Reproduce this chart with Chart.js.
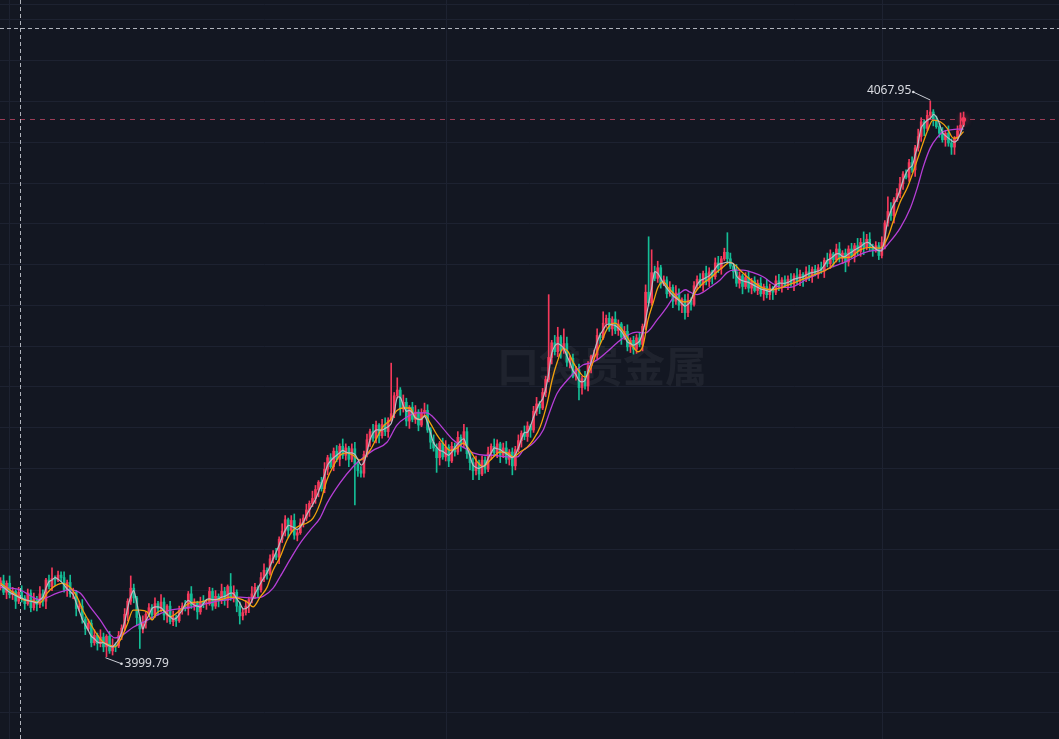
<!DOCTYPE html>
<html>
<head>
<meta charset="utf-8">
<script src="https://cdn.jsdelivr.net/npm/chart.js@4/dist/chart.umd.min.js"></script>
<style>
html,body{margin:0;padding:0;background:#131722;}
#wrap{width:1059px;height:739px;position:relative;}
</style>
</head>
<body>
<div id="wrap"><canvas id="c" width="1059" height="739"></canvas></div>
<script>
// ---------- data ----------
const open = [
4008.5,4009.1,4007.7,4008.8,4007.4,4007.8,4006.6,4007.7,4007.0,4006.3,
4007.6,4005.8,4006.9,4006.2,4007.5,4006.6,4009.2,4008.4,4009.4,4009.2,
4009.8,4009.5,4008.0,4008.9,4007.5,4007.7,4005.7,4006.0,4004.4,4003.2,
4003.9,4001.5,4002.4,4001.4,4002.2,4001.0,4002.3,4000.5,4001.2,4001.1,
4002.4,4003.3,4005.0,4006.6,4008.2,4007.0,4004.6,4003.2,4004.0,4005.0,
4005.8,4004.9,4006.3,4005.7,4006.5,4004.9,4006.0,4004.1,4004.6,4004.2,
4005.5,4006.0,4005.7,4007.5,4006.1,4006.4,4005.3,4006.5,4006.3,4006.3,
4007.8,4006.0,4007.2,4006.7,4007.8,4006.7,4008.4,4007.0,4007.7,4006.0,
4004.8,4005.2,4006.0,4006.8,4007.5,4008.3,4008.0,4009.5,4010.4,4010.0,
4011.8,4012.4,4012.0,4014.2,4015.2,4016.6,4015.3,4016.5,4014.7,4015.0,
4016.2,4016.8,4017.8,4018.6,4019.2,4020.3,4021.2,4020.4,4022.8,4024.2,
4023.1,4025.0,4024.0,4025.6,4024.5,4025.4,4024.0,4025.3,4023.4,4022.6,
4022.3,4024.6,4026.4,4027.4,4026.6,4028.2,4026.9,4028.3,4027.4,4028.8,
4029.6,4031.8,4032.5,4030.2,4031.0,4028.7,4030.4,4028.9,4029.8,4028.2,
4029.7,4030.0,4027.6,4026.1,4025.4,4024.2,4026.0,4024.3,4025.5,4023.8,
4025.6,4024.9,4026.7,4025.8,4027.4,4024.7,4023.6,4022.6,4023.6,4022.2,
4023.9,4022.8,4024.8,4025.6,4024.8,4025.9,4024.5,4025.4,4024.0,4024.9,
4023.2,4025.2,4026.3,4027.2,4026.8,4028.1,4027.6,4029.9,4030.8,4030.3,
4032.2,4033.8,4036.5,4038.3,4037.2,4039.0,4037.3,4038.2,4035.9,4036.4,
4034.2,4035.0,4032.8,4033.9,4033.0,4035.5,4036.6,4036.8,4039.2,4038.9,
4040.7,4041.3,4040.0,4041.2,4039.8,4040.6,4039.0,4039.7,4037.8,4038.6,
4037.5,4038.9,4038.1,4040.3,4044.5,4043.2,4046.9,4046.2,4047.5,4045.5,
4046.0,4044.3,4045.1,4043.4,4044.4,4042.9,4043.6,4042.0,4043.5,4043.0,
4045.3,4046.1,4045.4,4046.8,4045.8,4047.0,4046.4,4048.1,4047.4,4048.6,
4049.4,4048.6,4047.7,4047.0,4045.6,4046.5,4045.2,4046.3,4045.0,4045.9,
4044.7,4045.6,4044.3,4045.2,4044.2,4045.0,4044.5,4045.9,4045.2,4046.0,
4045.3,4046.1,4045.5,4046.5,4045.9,4046.7,4046.1,4047.0,4046.4,4047.3,
4046.7,4047.5,4047.1,4048.4,4048.0,4049.2,4048.5,4049.8,4048.7,4049.3,
4048.2,4049.8,4049.0,4050.2,4049.5,4050.6,4050.0,4051.0,4050.1,4049.6,
4050.2,4049.0,4050.6,4053.0,4054.4,4053.9,4055.9,4056.6,4057.8,4059.0,
4058.6,4060.4,4059.5,4062.2,4063.6,4065.4,4064.6,4066.2,4066.6,4065.6,
4064.8,4064.0,4063.2,4064.0,4062.8,4062.3,4063.4,4064.3,4065.0
];
const close = [
4009.1,4007.7,4008.8,4007.4,4007.8,4006.6,4007.7,4007.0,4006.3,4007.6,
4005.8,4006.9,4006.2,4007.5,4006.6,4009.2,4008.4,4009.4,4009.2,4009.8,
4009.5,4008.0,4008.9,4007.5,4007.7,4005.7,4006.0,4004.4,4003.2,4003.9,
4001.5,4002.4,4001.4,4002.2,4001.0,4002.3,4000.5,4001.2,4001.1,4002.4,
4003.3,4005.0,4006.6,4008.2,4007.0,4004.6,4003.2,4004.0,4005.0,4005.8,
4004.9,4006.3,4005.7,4006.5,4004.9,4006.0,4004.1,4004.6,4004.2,4005.5,
4006.0,4005.7,4007.5,4006.1,4006.4,4005.3,4006.5,4006.3,4006.3,4007.8,
4006.0,4007.2,4006.7,4007.8,4006.7,4008.4,4007.0,4007.7,4006.0,4004.8,
4005.2,4006.0,4006.8,4007.5,4008.3,4008.0,4009.5,4010.4,4010.0,4011.8,
4012.4,4012.0,4014.2,4015.2,4016.6,4015.3,4016.5,4014.7,4015.0,4016.2,
4016.8,4017.8,4018.6,4019.2,4020.3,4021.2,4020.4,4022.8,4024.2,4023.1,
4025.0,4024.0,4025.6,4024.5,4025.4,4024.0,4025.3,4023.4,4022.6,4022.3,
4024.6,4026.4,4027.4,4026.6,4028.2,4026.9,4028.3,4027.4,4028.8,4029.6,
4031.8,4032.5,4030.2,4031.0,4028.7,4030.4,4028.9,4029.8,4028.2,4029.7,
4030.0,4027.6,4026.1,4025.4,4024.2,4026.0,4024.3,4025.5,4023.8,4025.6,
4024.9,4026.7,4025.8,4027.4,4024.7,4023.6,4022.6,4023.6,4022.2,4023.9,
4022.8,4024.8,4025.6,4024.8,4025.9,4024.5,4025.4,4024.0,4024.9,4023.2,
4025.2,4026.3,4027.2,4026.8,4028.1,4027.6,4029.9,4030.8,4030.3,4032.2,
4033.8,4036.5,4038.3,4037.2,4039.0,4037.3,4038.2,4035.9,4036.4,4034.2,
4035.0,4032.8,4033.9,4033.0,4035.5,4036.6,4036.8,4039.2,4038.9,4040.7,
4041.3,4040.0,4041.2,4039.8,4040.6,4039.0,4039.7,4037.8,4038.6,4037.5,
4038.9,4038.1,4040.3,4044.5,4043.2,4046.9,4046.2,4047.5,4045.5,4046.0,
4044.3,4045.1,4043.4,4044.4,4042.9,4043.6,4042.0,4043.5,4043.0,4045.3,
4046.1,4045.4,4046.8,4045.8,4047.0,4046.4,4048.1,4047.4,4048.6,4049.4,
4048.6,4047.7,4047.0,4045.6,4046.5,4045.2,4046.3,4045.0,4045.9,4044.7,
4045.6,4044.3,4045.2,4044.2,4045.0,4044.5,4045.9,4045.2,4046.0,4045.3,
4046.1,4045.5,4046.5,4045.9,4046.7,4046.1,4047.0,4046.4,4047.3,4046.7,
4047.5,4047.1,4048.4,4048.0,4049.2,4048.5,4049.8,4048.7,4049.3,4048.2,
4049.8,4049.0,4050.2,4049.5,4050.6,4050.0,4051.0,4050.1,4049.6,4050.2,
4049.0,4050.6,4053.0,4054.4,4053.9,4055.9,4056.6,4057.8,4059.0,4058.6,
4060.4,4059.5,4062.2,4063.6,4065.4,4064.6,4066.2,4066.6,4065.6,4064.8,
4064.0,4063.2,4064.0,4062.8,4062.3,4063.4,4064.3,4065.0,4065.8
];
const high = [
4009.5,4009.8,4009.1,4009.7,4008.3,4008.0,4008.3,4008.5,4007.3,4008.1,
4008.0,4007.6,4007.2,4008.4,4008.0,4009.4,4009.8,4010.7,4009.7,4010.3,
4010.2,4010.2,4009.2,4009.8,4008.2,4007.9,4006.6,4006.8,4004.7,4004.4,
4004.3,4003.1,4002.7,4003.1,4002.7,4002.5,4002.9,4002.0,4001.5,4002.9,
4003.7,4005.7,4006.9,4009.7,4008.7,4007.2,4004.8,4004.8,4005.3,4006.3,
4006.2,4007.0,4006.6,4007.4,4007.0,4006.2,4006.6,4005.4,4004.9,4006.0,
4006.4,4006.7,4007.8,4008.4,4006.9,4006.6,4007.1,4007.3,4006.6,4008.3,
4008.2,4007.9,4007.5,4008.7,4008.3,4008.6,4010.0,4008.5,4008.0,4006.5,
4005.6,4006.7,4007.1,4008.4,4008.8,4008.5,4010.1,4011.2,4010.7,4012.3,
4012.8,4013.1,4014.5,4016.1,4017.1,4016.8,4017.1,4017.3,4015.3,4016.7,
4017.2,4018.5,4018.9,4020.1,4020.8,4021.4,4021.8,4023.6,4024.5,4024.7,
4025.4,4025.7,4025.9,4026.5,4025.9,4025.6,4025.9,4026.1,4023.7,4023.1,
4025.0,4027.1,4027.7,4028.3,4028.7,4028.4,4028.9,4029.1,4029.1,4035.8,
4032.2,4034.0,4032.8,4031.9,4031.5,4030.6,4031.0,4030.6,4030.1,4030.2,
4030.9,4030.7,4027.9,4027.0,4025.9,4026.2,4026.6,4026.3,4025.8,4026.1,
4026.0,4027.4,4027.0,4028.3,4027.9,4024.9,4024.2,4024.4,4023.9,4024.4,
4024.3,4025.5,4025.9,4026.5,4026.4,4026.1,4026.0,4026.2,4025.2,4025.4,
4025.6,4027.0,4027.5,4028.1,4028.6,4028.3,4030.5,4031.6,4031.1,4032.7,
4034.2,4044.2,4038.6,4039.2,4040.2,4039.2,4040.0,4039.0,4036.7,4036.9,
4035.4,4035.7,4034.2,4034.8,4036.0,4036.8,4037.4,4040.0,4039.5,4042.1,
4041.7,4042.0,4041.5,4042.1,4041.1,4040.8,4040.3,4040.5,4038.9,4039.1,
4039.3,4039.6,4040.6,4045.4,4051.3,4049.7,4047.7,4048.3,4047.8,4046.5,
4046.4,4045.8,4045.4,4045.3,4044.9,4043.8,4044.2,4044.3,4043.8,4045.8,
4046.5,4046.8,4047.1,4047.7,4047.5,4047.2,4048.7,4048.9,4048.9,4049.9,
4051.8,4049.3,4048.0,4047.9,4047.0,4046.7,4046.9,4047.1,4046.2,4046.4,
4046.0,4046.3,4045.5,4046.1,4045.5,4045.2,4046.5,4046.7,4046.3,4046.5,
4046.5,4046.8,4046.8,4047.4,4047.2,4046.9,4047.6,4047.8,4047.6,4047.8,
4047.9,4048.2,4048.7,4049.3,4049.7,4049.4,4050.4,4050.6,4049.6,4049.8,
4050.2,4050.5,4050.5,4051.1,4051.1,4051.9,4051.6,4051.8,4050.4,4050.7,
4050.6,4051.3,4053.3,4056.2,4055.5,4056.1,4057.2,4058.6,4059.3,4059.5,
4060.8,4061.1,4062.5,4064.5,4065.9,4065.6,4066.8,4067.95,4066.9,4066.1,
4065.2,4064.7,4064.3,4064.9,4063.3,4063.6,4064.9,4066.5,4066.6
];
const low = [
4008.0,4007.4,4006.9,4007.0,4006.8,4005.7,4006.3,4006.5,4005.6,4006.1,
4005.3,4005.5,4005.4,4005.8,4006.0,4005.7,4008.1,4007.9,4008.5,4009.0,
4009.0,4007.7,4007.2,4007.1,4006.9,4004.8,4005.4,4003.9,4002.5,4003.0,
4001.0,4001.2,4000.6,4001.0,4000.4,3999.79,4000.2,4000.0,4000.4,4000.9,
4001.9,4003.0,4004.2,4006.2,4006.4,4003.7,4000.8,4002.7,4003.3,4004.8,
4004.4,4004.6,4004.9,4005.3,4004.3,4004.0,4003.8,4003.6,4003.5,4004.0,
4005.0,4005.4,4004.9,4005.7,4005.5,4004.4,4005.0,4005.8,4005.6,4006.1,
4005.5,4005.7,4005.9,4006.3,4006.1,4005.8,4006.7,4006.5,4005.3,4003.8,
4004.3,4004.9,4005.2,4006.4,4006.9,4007.1,4007.7,4009.0,4009.3,4009.8,
4011.3,4011.7,4011.2,4013.8,4014.6,4014.4,4015.0,4014.2,4014.0,4014.8,
4015.7,4016.5,4017.0,4018.2,4018.6,4019.4,4020.1,4019.9,4022.1,4022.9,
4022.6,4023.7,4023.2,4024.1,4023.9,4023.1,4023.7,4018.4,4021.9,4021.8,
4021.8,4024.3,4025.6,4026.2,4026.0,4026.0,4026.6,4026.9,4026.7,4028.6,
4029.1,4031.5,4029.4,4029.8,4028.1,4027.8,4028.6,4028.4,4027.5,4028.0,
4029.2,4027.3,4025.3,4025.0,4022.4,4023.3,4024.0,4023.8,4023.1,4023.6,
4024.4,4024.6,4025.0,4025.4,4024.1,4022.7,4021.5,4022.1,4021.5,4022.0,
4022.3,4022.5,4024.0,4024.4,4024.2,4023.6,4024.2,4023.5,4023.3,4022.1,
4022.7,4024.9,4025.5,4026.4,4026.2,4026.7,4027.3,4029.4,4029.6,4030.1,
4031.7,4033.5,4035.7,4036.8,4036.6,4036.4,4037.0,4035.4,4035.2,4034.0,
4033.7,4031.3,4032.0,4032.6,4032.4,4034.6,4036.3,4036.3,4038.2,4038.7,
4040.2,4039.7,4039.2,4039.4,4039.2,4038.1,4038.7,4037.3,4037.1,4036.9,
4037.0,4037.8,4037.3,4039.9,4042.8,4042.9,4045.9,4045.7,4045.0,4045.3,
4043.8,4044.0,4042.6,4043.0,4042.3,4042.0,4041.2,4041.5,4042.3,4042.8,
4044.8,4045.1,4044.6,4045.4,4045.2,4045.5,4046.1,4046.9,4046.7,4048.4,
4048.1,4047.4,4046.2,4045.2,4045.0,4044.3,4044.9,4044.5,4044.3,4044.5,
4044.2,4044.0,4043.5,4043.8,4043.6,4043.6,4044.2,4044.7,4044.5,4045.1,
4044.8,4045.2,4044.7,4045.5,4045.3,4045.2,4045.8,4045.9,4045.7,4046.5,
4046.2,4046.8,4046.3,4047.6,4047.4,4047.6,4048.2,4048.2,4048.0,4047.0,
4047.7,4048.7,4048.2,4049.1,4048.9,4049.1,4049.7,4049.6,4048.9,4049.4,
4048.5,4048.7,4049.8,4052.6,4053.3,4053.0,4055.6,4056.1,4057.1,4058.4,
4058.1,4059.2,4058.7,4061.8,4063.0,4063.7,4064.3,4065.7,4064.9,4064.6,
4063.5,4062.9,4062.4,4062.4,4061.4,4061.4,4063.1,4063.8,4064.8
];
// grey short moving average, one value per candle
const ma5 = [
4008.6,4008.3,4008.0,4007.7,4007.5,4007.3,4007.1,4007.0,4006.8,4006.7,
4006.6,4006.5,4006.4,4006.8,4007.1,4008.2,4009.0,4009.2,4009.5,4009.3,
4009.0,4008.6,4008.1,4007.8,4007.4,4006.4,4005.4,4004.4,4003.7,4003.0,
4002.3,4002.0,4001.6,4001.5,4001.5,4001.3,4001.1,4001.0,4001.4,4001.9,
4002.8,4004.1,4005.8,4007.2,4007.9,4006.4,4004.7,4003.2,4004.2,4004.9,
4005.7,4005.9,4005.9,4005.8,4005.4,4005.0,4004.7,4004.4,4004.5,4005.0,
4005.5,4006.3,4006.7,4006.4,4006.1,4006.0,4005.9,4006.3,4006.8,4006.9,
4006.8,4006.8,4006.9,4007.1,4007.2,4007.4,4007.6,4007.5,4006.9,4006.4,
4005.7,4005.7,4006.0,4006.7,4007.5,4008.2,4008.9,4009.5,4010.1,4010.9,
4011.8,4012.6,4013.5,4014.5,4015.3,4015.9,4015.8,4015.6,4015.4,4015.7,
4016.3,4017.1,4017.8,4018.4,4019.1,4020.0,4021.0,4022.1,4023.3,4023.8,
4024.2,4024.5,4024.8,4025.1,4024.9,4024.8,4024.8,4024.6,4024.0,4023.3,
4023.6,4024.9,4026.4,4027.2,4027.6,4027.6,4027.6,4027.8,4028.0,4028.4,
4029.7,4031.6,4031.6,4030.6,4029.9,4030.0,4029.7,4029.1,4028.9,4028.9,
4029.3,4028.5,4027.2,4026.0,4025.5,4025.1,4025.0,4024.7,4024.5,4024.9,
4025.4,4025.9,4026.3,4026.5,4025.5,4024.4,4023.3,4023.0,4022.9,4023.1,
4023.3,4024.1,4024.8,4025.4,4025.3,4025.2,4024.9,4024.7,4024.4,4024.2,
4024.6,4025.4,4026.5,4027.3,4027.3,4028.1,4029.2,4030.1,4030.9,4031.4,
4032.6,4034.5,4037.0,4037.9,4038.2,4038.0,4037.6,4036.7,4035.9,4034.9,
4034.4,4033.7,4033.5,4033.7,4034.8,4035.9,4037.2,4038.4,4039.3,4039.9,
4040.5,4040.6,4040.5,4040.4,4040.1,4039.7,4039.1,4038.4,4038.2,4038.0,
4038.2,4038.5,4039.5,4041.1,4043.1,4045.0,4047.0,4046.8,4046.2,4045.5,
4045.0,4044.5,4044.1,4043.8,4043.5,4043.1,4042.8,4043.0,4043.5,4044.6,
4045.4,4045.9,4046.1,4046.3,4046.5,4046.9,4047.4,4047.9,4048.0,4048.1,
4048.2,4048.1,4048.0,4046.5,4046.1,4045.9,4045.8,4045.7,4045.5,4045.3,
4045.1,4044.9,4044.8,4044.7,4044.6,4044.9,4045.4,4045.6,4045.6,4045.6,
4045.7,4045.9,4046.1,4046.2,4046.3,4046.4,4046.6,4046.8,4046.9,4047.0,
4047.1,4047.3,4047.8,4048.4,4048.6,4048.9,4049.2,4049.2,4048.9,4048.9,
4049.2,4049.4,4049.7,4049.9,4050.1,4050.4,4050.6,4050.5,4050.1,4049.8,
4049.6,4049.6,4051.2,4053.4,4054.5,4055.3,4056.0,4057.0,4058.2,4059.1,
4059.7,4060.0,4061.3,4062.8,4064.7,4065.2,4065.6,4065.8,4066.3,4066.0,
4065.2,4064.1,4063.7,4063.4,4063.1,4062.9,4063.2,4064.0,4065.0
];
// orange medium moving average (candle position, price)
const ma10Pos = [0,4.1,7.4,10.7,13.0,15.4,17.3,20.3,23.0,25.3,27.2,29.6,31.9,33.8,36.2,37.8,39.5,41.8,43.8,46.1,48.4,50.0,51.7,53.7,56.0,59.3,62.6,65.9,69.2,72.5,75.8,78.1,81.4,83.4,85.7,88.0,90.0,92.3,94.6,96.6,98.9,101.2,103.2,105.5,107.8,109.8,112.1,114.4,116.4,118.7,122.0,124.3,126.3,128.6,130.9,132.9,135.2,136.9,138.5,140.2,141.8,144.1,146.1,148.4,150.8,152.7,155.0,157.4,159.3,161.7,165.0,167.3,169.3,171.6,173.9,175.9,178.2,180.5,182.1,183.8,185.8,187.4,189.1,191.4,193.0,194.7,196.3,198.6,200.6,202.9,204.6,206.9,208.9,210.5,212.2,213.8,215.5,217.1,218.8,220.4,222.1,224.4,226.1,227.7,230.0,232.0,234.3,236.6,238.6,240.9,242.6,244.2,246.5,249.2,251.8,254.8,257.4,260.1,263.0,265.7,269.0,273.9,277.2,280.5,283.8,287.2,290.5,292.8,294.7,297.1,299.4,301.3,303.6,306.0,307.9,310.3,312.6,314.6,316.2,318];
const ma10Val = [4008.8,4007.7,4006.8,4006.6,4006.4,4007.6,4008.3,4008.8,4008.3,4007.1,4005.5,4003.9,4002.5,4001.6,4001.2,4001.0,4001.8,4003.7,4005.5,4005.5,4005.3,4004.3,4005.2,4005.5,4004.7,4005.5,4006.4,4006.5,4006.8,4006.8,4007.1,4007.0,4006.5,4005.9,4007.1,4008.3,4010.4,4012.0,4014.1,4015.3,4015.9,4016.2,4016.8,4018.6,4021.5,4023.1,4024.5,4024.8,4024.5,4023.9,4025.1,4026.7,4028.0,4028.8,4030.0,4030.3,4030.3,4029.1,4028.9,4029.4,4028.5,4027.0,4026.0,4025.1,4025.4,4026.0,4025.1,4023.7,4023.1,4023.9,4024.9,4024.8,4024.3,4024.9,4025.5,4026.4,4028.0,4030.9,4033.7,4035.9,4037.6,4037.2,4035.9,4034.6,4034.1,4035.0,4036.6,4038.6,4040.2,4040.7,4040.2,4039.0,4037.8,4037.2,4038.0,4041.1,4043.2,4045.1,4045.8,4045.1,4044.4,4043.5,4043.3,4043.5,4044.8,4045.6,4046.2,4047.0,4047.6,4048.2,4047.8,4047.2,4046.4,4045.6,4045.0,4044.8,4045.0,4045.4,4045.8,4046.2,4046.7,4047.5,4048.7,4048.8,4049.7,4050.0,4049.9,4051.1,4053.1,4055.6,4057.3,4059.2,4061.7,4064.2,4065.6,4065.4,4064.6,4063.4,4063.5,4064.2];
// purple long moving average (candle position, price)
const ma30Pos = [0,6.4,13.0,18.7,23.0,26.3,29.6,32.9,36.2,37.8,40.5,43.8,47.1,51.7,56.0,61.6,65.9,70.2,74.8,79.1,83.4,86.7,90.0,92.3,95.6,98.9,102.2,105.5,107.8,112.1,116.4,119.7,123.0,127.6,130.9,134.2,137.5,140.8,142.8,146.1,149.4,152.7,156.0,160.0,162.6,167.3,170.6,172.6,175.9,179.2,181.5,183.8,187.1,190.4,192.4,194.7,197.0,200.3,203.6,206.9,210.2,212.8,216.8,220.1,222.1,224.4,226.1,227.7,230.0,232.0,234.3,237.6,239.9,241.9,245.2,248.5,251.8,254.8,257.4,260.7,264.0,265.7,269.0,273.9,278.2,281.5,284.8,288.1,291.1,293.7,297.1,300.4,302.7,304.7,307.0,309.3,311.3,313.6,315.9,318];
const ma30Val = [4008.3,4008.0,4006.8,4007.6,4008.0,4007.6,4005.9,4004.3,4002.5,4002.1,4002.5,4003.4,4004.0,4004.9,4005.5,4005.8,4006.1,4006.5,4006.8,4007.1,4007.0,4007.2,4008.2,4009.6,4011.7,4013.7,4015.3,4016.8,4018.6,4021.1,4023.1,4024.2,4025.1,4026.1,4028.2,4029.2,4029.7,4029.7,4029.2,4027.8,4026.4,4025.5,4024.8,4024.5,4024.5,4024.3,4024.3,4025.1,4026.0,4027.6,4030.0,4032.1,4033.7,4035.0,4035.6,4035.8,4036.2,4037.2,4038.3,4039.2,4039.6,4039.5,4041.1,4042.7,4043.8,4044.4,4044.8,4044.5,4044.2,4044.5,4045.1,4046.0,4046.9,4047.2,4047.2,4046.9,4046.4,4045.6,4045.1,4045.1,4045.6,4046.0,4046.6,4047.5,4048.1,4048.7,4049.3,4049.6,4049.7,4050.7,4052.4,4054.8,4057.3,4059.9,4062.2,4063.5,4064.2,4064.4,4064.5,4064.5];
// horizontal grid prices and vertical session dividers (candle position)
const gridPrices = [4079.73,4077.89,4072.89,4067.89,4062.89,4057.89,4052.89,4047.89,4042.89,4037.89,4032.89,4027.89,4022.89,4017.89,4012.89,4007.89,4002.89,3997.89,3992.89];
const sessionTicks = [3.1,147.1,291.1];
const crosshair = {pos: 6.4, price: 4076.9};
const watermarkText = '口袋贵金属';

// ---------- styles ----------
const UP = '#f5395b', DOWN = '#14bd96';
const BG = '#131722', GRID = '#1d2231';

const idx = close.map((_, i) => i);
const colorOf = (i) => close[i] >= open[i] ? UP : DOWN;

const decor = {
  id: 'decor',
  beforeDraw(chart) {
    const ctx = chart.ctx;
    ctx.save(); ctx.fillStyle = BG; ctx.fillRect(0, 0, chart.width, chart.height); ctx.restore();
  },
  beforeDatasetsDraw(chart) {
    const ctx = chart.ctx;
    ctx.save();
    ctx.font = 'bold 42px "Noto Sans CJK SC"';
    ctx.fillStyle = 'rgba(255,255,255,0.055)';
    ctx.textAlign = 'center'; ctx.textBaseline = 'middle';
    ctx.fillText(watermarkText, 602, 366);
    ctx.restore();
  },
  afterDatasetsDraw(chart) {
    const ctx = chart.ctx, xs = chart.scales.x, ys = chart.scales.y;
    const W = chart.width, H = chart.height;
    ctx.save();
    // last price line
    const last = close.length - 1;
    const ly = Math.round(ys.getPixelForValue(close[last])) + 0.5;
    ctx.strokeStyle = 'rgba(190,70,100,0.8)'; ctx.lineWidth = 1; ctx.setLineDash([5, 5]);
    ctx.beginPath(); ctx.moveTo(0, ly); ctx.lineTo(W, ly); ctx.stroke();
    // crosshair
    const cx = Math.round(xs.getPixelForValue(crosshair.pos)) + 0.5;
    const cy = Math.round(ys.getPixelForValue(crosshair.price)) + 0.5;
    ctx.strokeStyle = 'rgba(205,208,215,0.85)'; ctx.setLineDash([4, 3]);
    ctx.beginPath(); ctx.moveTo(cx, 0); ctx.lineTo(cx, H); ctx.stroke();
    ctx.beginPath(); ctx.moveTo(0, cy); ctx.lineTo(W, cy); ctx.stroke();
    ctx.setLineDash([]);
    // last price dot
    const lx = xs.getPixelForValue(last);
    ctx.fillStyle = UP; ctx.shadowColor = UP; ctx.shadowBlur = 6;
    ctx.beginPath(); ctx.arc(lx, ly, 2.5, 0, Math.PI * 2); ctx.fill();
    ctx.shadowBlur = 0;
    // max / min labels
    let iMax = 0, iMin = 0;
    high.forEach((v, i) => { if (v > high[iMax]) iMax = i; });
    low.forEach((v, i) => { if (v < low[iMin]) iMin = i; });
    ctx.strokeStyle = '#c9ccd4'; ctx.fillStyle = '#d9dbe1'; ctx.lineWidth = 1;
    ctx.font = '12px "Noto Sans", "DejaVu Sans", sans-serif'; ctx.textBaseline = 'middle';
    let px = xs.getPixelForValue(iMax), py = ys.getPixelForValue(high[iMax]);
    ctx.beginPath(); ctx.moveTo(px, py - 1); ctx.lineTo(px - 17, py - 9); ctx.stroke();
    ctx.beginPath(); ctx.arc(px - 17, py - 9, 1.3, 0, Math.PI * 2); ctx.fill();
    ctx.textAlign = 'right';
    ctx.fillText(high[iMax].toFixed(2), px - 19, py - 10);
    px = xs.getPixelForValue(iMin); py = ys.getPixelForValue(low[iMin]);
    ctx.beginPath(); ctx.moveTo(px - 1, py + 1); ctx.lineTo(px + 15, py + 7); ctx.stroke();
    ctx.beginPath(); ctx.arc(px + 15, py + 7, 1.3, 0, Math.PI * 2); ctx.fill();
    ctx.textAlign = 'left';
    ctx.fillText(low[iMin].toFixed(2), px + 18, py + 7);
    ctx.restore();
  }
};

new Chart(document.getElementById('c'), {
  type: 'bar',
  data: {
    datasets: [
      { type: 'line', label: 'MA5', data: idx.map(i => ({x: i, y: ma5[i]})), borderColor: '#b9bcc4', borderWidth: 1.2, pointRadius: 0, tension: 0.3, order: 0 },
      { type: 'line', label: 'MA10', data: ma10Pos.map((p, k) => ({x: p, y: ma10Val[k]})), borderColor: '#f2a20c', borderWidth: 1.3, pointRadius: 0, cubicInterpolationMode: 'monotone', order: 0 },
      { type: 'line', label: 'MA30', data: ma30Pos.map((p, k) => ({x: p, y: ma30Val[k]})), borderColor: '#b63ed6', borderWidth: 1.3, pointRadius: 0, cubicInterpolationMode: 'monotone', order: 0 },
      { label: 'body', data: idx.map(i => ({x: i, y: [open[i], close[i]]})), backgroundColor: idx.map(colorOf), barThickness: 2, minBarLength: 1, grouped: false, order: 1 },
      { label: 'wick', data: idx.map(i => ({x: i, y: [low[i], high[i]]})), backgroundColor: idx.map(colorOf), barThickness: 1, grouped: false, order: 2 }
    ]
  },
  options: {
    responsive: false,
    animation: false,
    devicePixelRatio: 1,
    layout: { padding: 0 },
    plugins: { legend: { display: false }, tooltip: { enabled: false } },
    scales: {
      x: {
        type: 'linear', min: -0.17, max: 349.5, offset: false,
        ticks: { display: false }, border: { display: false },
        grid: { color: GRID, drawTicks: false, lineWidth: 1, offset: false },
        afterBuildTicks: (s) => { s.ticks = sessionTicks.map(v => ({value: v})); },
        afterFit: (s) => { s.height = 0; }
      },
      y: {
        type: 'linear', min: 3989.70, max: 4080.34,
        ticks: { display: false }, border: { display: false },
        grid: { color: GRID, drawTicks: false, lineWidth: 1, offset: false },
        afterBuildTicks: (s) => { s.ticks = gridPrices.map(v => ({value: v})); },
        afterFit: (s) => { s.width = 0; }
      }
    }
  },
  plugins: [decor]
});
</script>
</body>
</html>
